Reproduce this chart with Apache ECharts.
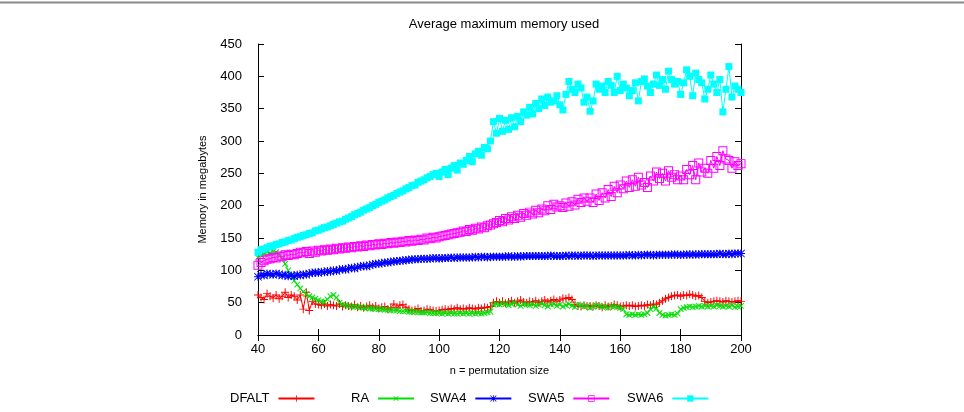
<!DOCTYPE html>
<html>
<head>
<meta charset="utf-8">
<script src="https://cdn.jsdelivr.net/npm/echarts@6/dist/echarts.min.js"></script>
<style>
  html, body { margin: 0; padding: 0; background: #fff; }
  #main { width: 964px; height: 412px; }
</style>
</head>
<body>
<div id="main"></div>
<script>
// permutation sizes: 40 .. 200, one point per size
var firstSize = 40;

var dfalt = [
  62, 58, 55, 64, 60, 57, 62, 56, 60, 66,
  58, 62, 60, 54, 62, 40, 66, 38, 52, 48,
  47, 46, 48, 45, 47, 46, 45, 48, 44, 46,
  45, 44, 47, 43, 45, 42, 44, 46, 43, 45,
  41, 43, 44, 40, 42, 48, 42, 46, 47, 43,
  40, 38, 39, 41, 37, 38, 40, 39, 38, 37,
  38, 39, 40, 39, 41, 40, 42, 40, 41, 40,
  42, 41, 40, 42, 41, 43, 42, 44, 50, 52,
  50, 52, 49, 51, 53, 50, 52, 54, 51, 50,
  52, 51, 53, 50, 52, 54, 51, 53, 55, 52,
  54, 57, 56, 58, 55, 47, 45, 44, 46, 45,
  45, 44, 46, 45, 43, 46, 44, 45, 47, 46,
  44, 45, 46, 45, 46, 44, 45, 46, 45, 47,
  46, 48, 47, 50, 53, 56, 58, 60, 61, 62,
  60, 62, 61, 63, 62, 60, 61, 58, 52, 50,
  51, 52, 53, 52, 51, 53, 52, 51, 52, 53,
  52
];

var ra = [
  120, 124, 126, 128, 127, 129, 128, 125, 118, 110,
  100, 92, 84, 78, 72, 67, 63, 60, 58, 56,
  54, 52, 51, 55, 60, 62, 58, 50, 47, 46,
  45, 44, 44, 43, 43, 42, 42, 41, 41, 40,
  40, 40, 39, 39, 38, 38, 38, 37, 37, 37,
  36, 36, 36, 35, 35, 35, 35, 34, 34, 34,
  34, 33, 34, 33, 34, 33, 33, 34, 33, 34,
  33, 34, 33, 34, 33, 34, 35, 36, 47, 48,
  47, 49, 48, 46, 48, 50, 47, 45, 48, 47,
  46, 48, 45, 47, 49, 46, 44, 47, 48, 45,
  47, 44, 46, 48, 45, 43, 47, 46, 44, 45,
  42, 44, 46, 45, 43, 44, 42, 45, 44, 43,
  42, 40, 32, 31, 32, 31, 32, 31, 32, 34,
  40, 43, 41, 34, 31, 30, 31, 32, 31, 33,
  40, 42, 43, 44, 43, 44, 45, 44, 45, 44,
  45, 44, 46, 45, 44, 45, 44, 46, 43, 44,
  45
];

var swa4 = [
  90, 93, 92, 95, 94, 93, 95, 94, 92, 93,
  91, 92, 91, 93, 92, 94, 93, 95, 96, 97,
  96, 98, 97, 99, 98, 100, 99, 101, 102, 101,
  103, 104, 103, 105, 106, 107, 106, 108, 109, 110,
  110, 111, 112, 112, 113, 114, 114, 115, 115, 116,
  116, 117, 117, 117, 118, 118, 118, 118, 119, 119,
  118, 119, 119, 119, 120, 119, 120, 120, 120, 120,
  120, 120, 121, 120, 121, 121, 120, 121, 121, 121,
  121, 121, 121, 122, 121, 121, 122, 121, 122, 122,
  122, 122, 122, 122, 122, 122, 122, 123, 122, 122,
  122, 122, 123, 122, 123, 123, 122, 123, 123, 123,
  123, 122, 123, 123, 123, 123, 123, 123, 123, 123,
  123, 123, 123, 124, 123, 123, 124, 123, 124, 124,
  124, 123, 124, 124, 124, 124, 124, 124, 125, 124,
  124, 124, 125, 124, 125, 124, 125, 125, 125, 125,
  125, 125, 125, 126, 125, 125, 126, 125, 126, 126,
  126
];

var swa5 = [
  108, 112, 115, 117, 118, 120, 119, 122, 121, 124,
  123, 125, 124, 126, 128, 127, 129, 126, 130, 128,
  131, 130, 132, 131, 133, 132, 134, 133, 135, 134,
  136, 135, 137, 136, 138, 137, 139, 138, 140, 139,
  141, 140, 142, 141, 143, 142, 144, 143, 145, 144,
  146, 145, 147, 146, 148, 147, 150, 149, 151, 150,
  152, 153, 154, 155, 156, 157, 158, 159, 161, 160,
  163, 162, 165, 164, 167, 166, 169, 170, 172, 174,
  177, 175, 180, 178, 183, 180, 185, 182, 188, 185,
  190, 187, 193, 189, 195, 192, 200, 194, 202, 198,
  200, 197, 204, 199, 206, 201, 210, 205, 212, 207,
  212, 205, 218, 208, 220, 212, 225, 214, 230, 220,
  232, 226, 238, 228, 240, 230, 244, 232, 236, 228,
  246, 238, 252, 242, 250, 238, 254, 244, 248, 240,
  246, 240, 256, 248, 262, 240, 266, 252, 258, 250,
  270, 258, 276, 262, 285, 272, 270, 258, 268, 262,
  265
];

var swa6 = [
  128, 132, 133, 135, 137, 138, 140, 141, 143, 144,
  146, 147, 149, 151, 152, 154, 155, 157, 158, 161,
  162, 164, 166, 167, 169, 171, 173, 175, 176, 179,
  181, 183, 186, 188, 190, 193, 195, 197, 200, 202,
  205, 207, 209, 212, 214, 216, 219, 221, 223, 226,
  228, 231, 232, 236, 238, 240, 243, 245, 248, 250,
  245, 252, 256, 248, 258, 262, 255, 266, 264, 270,
  276, 268, 280, 284, 278, 290, 288, 300, 330, 312,
  335, 315, 332, 318, 336, 322, 338, 330, 345, 340,
  352, 342, 358, 350, 365, 355, 368, 360, 362, 370,
  356, 348, 372, 392, 380, 375, 388, 382, 360, 368,
  346, 362, 388, 380, 385, 375, 392, 386, 375, 400,
  378, 388, 382, 370, 378, 390, 362, 392, 396, 385,
  375, 388, 402, 386, 395, 380, 408, 395, 388, 392,
  372, 390, 410, 400, 370, 405, 395, 390, 365, 380,
  402, 388, 375, 395, 345, 380, 415, 368, 385, 380,
  375
];

var names = ['DFALT', 'RA', 'SWA4', 'SWA5', 'SWA6'];
var colors = ['#ff0000', '#00e000', '#0000ff', '#ff00ff', '#00ffff'];
var legendLeft = [225, 346, 425, 523, 622];

// gnuplot style point shapes (plus, cross, star, open square, filled square)
var plusPath = 'path://M4.4,0H5.6V4.4H10V5.6H5.6V10H4.4V5.6H0V4.4H4.4Z';
var starPath = 'path://M4.4,0H5.6V4.4H10V5.6H5.6V10H4.4V5.6H0V4.4H4.4Z' +
  'M0.8,0L10,9.2L9.2,10L0,0.8Z M9.2,0L10,0.8L0.8,10L0,9.2Z';
var boxPath = 'path://M0,0H10V10H0Z M1.1,1.1V8.9H8.9V1.1Z';
var symbols = [plusPath, plusPath, starPath, boxPath, 'rect'];
var rotates = [0, 45, 0, 0, 0];
var sizes = [8, 8, 8, 9, 7];

function pairs(values) {
  return values.map(function (v, i) { return [firstSize + i, v]; });
}

var chart = echarts.init(document.getElementById('main'), null, { renderer: 'canvas' });
var font = 'Liberation Sans, Arial, sans-serif';

var series = [dfalt, ra, swa4, swa5, swa6].map(function (vals, k) {
  return {
    name: names[k],
    type: 'line',
    data: pairs(vals),
    symbol: symbols[k],
    symbolSize: sizes[k],
    symbolRotate: rotates[k],
    showAllSymbol: true,
    lineStyle: { color: colors[k], width: 1 },
    itemStyle: { color: colors[k], borderWidth: 0 },
    emphasis: { disabled: true }
  };
});

var legends = names.map(function (n, k) {
  return {
    data: [n],
    left: legendLeft[k],
    top: 387,
    align: 'right',
    itemWidth: 36,
    itemHeight: 8,
    selectedMode: false,
    textStyle: { fontFamily: font, fontSize: 13, color: '#000', padding: [0, 4, 0, 0] }
  };
});

var tickLine = { color: '#000', width: 1 };

var option = {
  animation: false,
  backgroundColor: '#fff',
  title: {
    text: 'Average maximum memory used',
    left: 499,
    textAlign: 'center',
    top: 13,
    textStyle: { fontFamily: font, fontSize: 13, fontWeight: 'normal', color: '#000' }
  },
  legend: legends,
  grid: { left: 258, right: 223, top: 44, bottom: 77, containLabel: false },
  xAxis: [{
    type: 'value', min: 40, max: 200, interval: 20,
    name: 'n = permutation size', nameLocation: 'middle', nameGap: 30,
    nameTextStyle: { fontFamily: font, fontSize: 11, color: '#000' },
    axisLine: { lineStyle: { color: '#000', width: 1 } },
    axisTick: { inside: true, length: 6, lineStyle: tickLine },
    axisLabel: { fontFamily: font, fontSize: 13, color: '#000', margin: 8 },
    splitLine: { show: false }
  }, {
    type: 'value', min: 40, max: 200, interval: 20, position: 'top',
    axisLine: { lineStyle: { color: '#000', width: 1 } },
    axisTick: { inside: true, length: 6, lineStyle: tickLine },
    axisLabel: { show: false },
    splitLine: { show: false }
  }],
  yAxis: [{
    type: 'value', min: 0, max: 450, interval: 50,
    name: 'Memory in megabytes', nameLocation: 'middle', nameGap: 50,
    nameTextStyle: { fontFamily: font, fontSize: 11, color: '#000' },
    axisLine: { show: true, lineStyle: { color: '#000', width: 1 } },
    axisTick: { show: true, inside: true, length: 6, lineStyle: tickLine },
    axisLabel: { fontFamily: font, fontSize: 13, color: '#000', margin: 16 },
    splitLine: { show: false }
  }, {
    type: 'value', min: 0, max: 450, interval: 50, position: 'right',
    axisLine: { show: true, lineStyle: { color: '#000', width: 1 } },
    axisTick: { show: true, inside: true, length: 6, lineStyle: tickLine },
    axisLabel: { show: false },
    splitLine: { show: false }
  }],
  graphic: [{
    type: 'line',
    shape: { x1: 0, y1: 2.5, x2: 964, y2: 2.5 },
    style: { stroke: '#888', lineWidth: 2 },
    silent: true
  }],
  series: series
};

chart.setOption(option);
</script>
</body>
</html>
